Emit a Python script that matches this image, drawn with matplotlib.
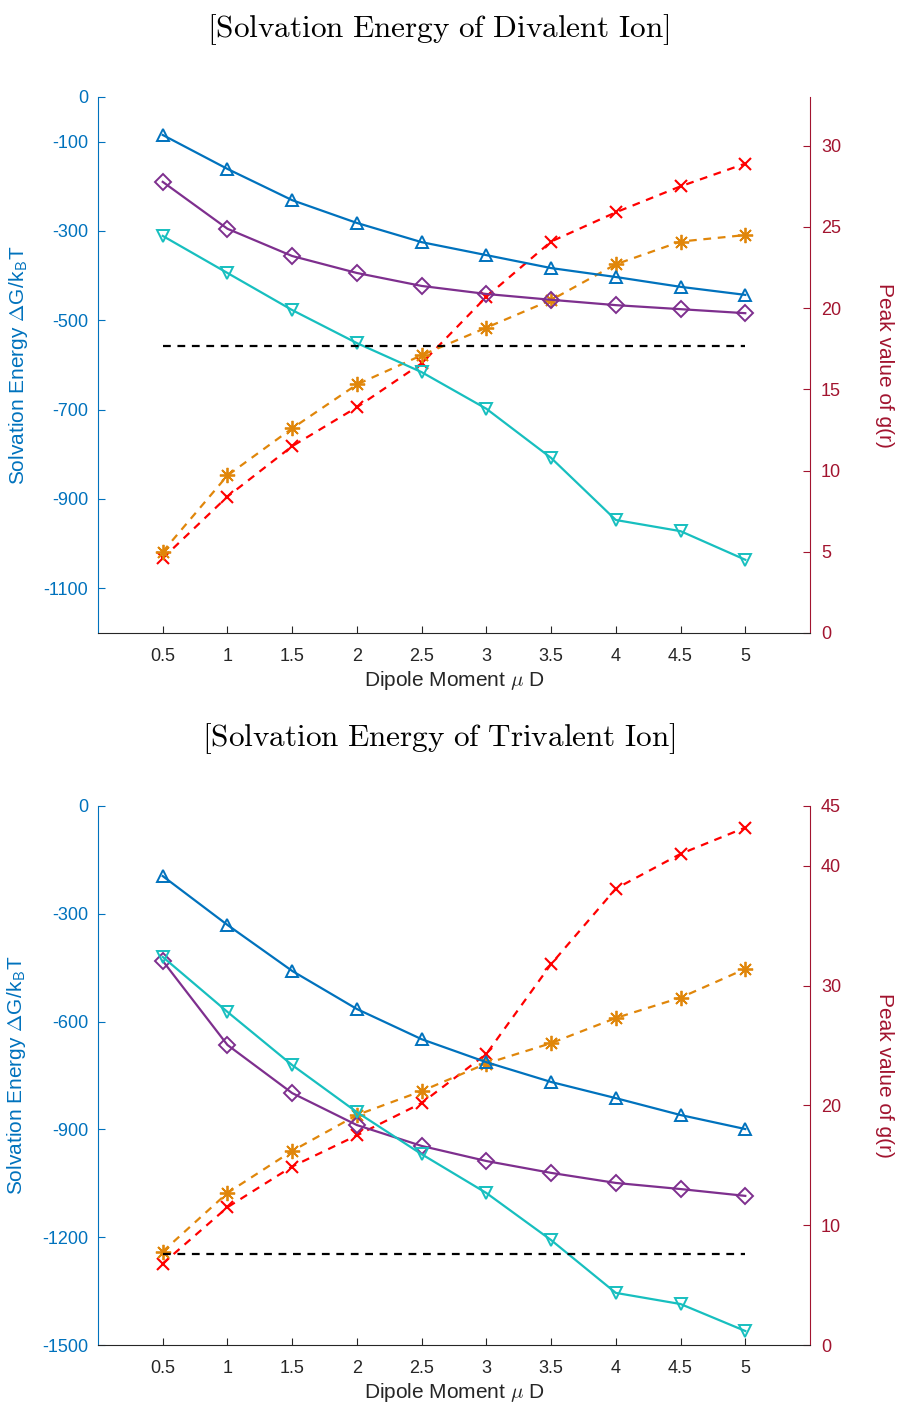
import matplotlib
matplotlib.use('Agg')
import matplotlib.pyplot as plt

plt.rcParams['font.family'] = ['Liberation Sans', 'DejaVu Sans']
plt.rcParams['mathtext.fontset'] = 'cm'
plt.rcParams['axes.unicode_minus'] = False

dipole = [0.5, 1, 1.5, 2, 2.5, 3, 3.5, 4, 4.5, 5]

# divalent ion: solvation energy (left axis) and peak of g(r) (right axis)
div_up = [-85, -161, -231, -282, -325, -354, -383, -403, -425, -443]
div_diamond = [-190, -295, -356, -394, -423, -441, -454, -466, -475, -484]
div_down = [-311, -394, -477, -551, -616, -698, -808, -947, -972, -1036]
div_ref = -557
div_peak_x = [4.6, 8.4, 11.5, 13.9, 16.6, 20.7, 24.1, 25.9, 27.5, 28.9]
div_peak_star = [5.0, 9.7, 12.6, 15.3, 17.1, 18.8, 20.5, 22.7, 24.1, 24.5]

# trivalent ion
tri_up = [-195, -331, -459, -565, -649, -713, -768, -813, -860, -899]
tri_diamond = [-431, -665, -799, -888, -946, -988, -1021, -1049, -1066, -1085]
tri_down = [-420, -573, -721, -852, -969, -1077, -1208, -1355, -1386, -1461]
tri_ref = -1247
tri_peak_x = [6.8, 11.5, 14.9, 17.5, 20.2, 24.3, 31.8, 38.1, 41.0, 43.2]
tri_peak_star = [7.8, 12.7, 16.2, 19.2, 21.2, 23.5, 25.2, 27.3, 29.0, 31.4]

xticks = [0.5, 1, 1.5, 2, 2.5, 3, 3.5, 4, 4.5, 5]
div_left_ticks = [0, -100, -300, -500, -700, -900, -1100]
div_right_ticks = [0, 5, 10, 15, 20, 25, 30]
tri_left_ticks = [0, -300, -600, -900, -1200, -1500]
tri_right_ticks = [0, 10, 20, 30, 40, 45]

BLUE = '#0072BD'
PURPLE = '#7E2F8E'
CYAN = '#17BFBF'
ORANGE = '#E0860A'
RED = '#FF0000'
DARKRED = '#A2142F'
TICK_FS = 13
LABEL_FS = 15
ASTERISK = (8, 2, 0)


def draw(fig, rect, title, up, diamond, down, ref, peak_x, peak_star,
         left_lim, left_ticks, right_lim, right_ticks):
    ax = fig.add_axes(rect)
    ax2 = ax.twinx()
    ax.set_zorder(ax2.get_zorder() + 1)
    ax.patch.set_visible(False)

    mk = dict(mfc='none', ms=9, mew=1.4, lw=1.6)
    ax.plot(dipole, up, '-^', color=BLUE, **mk)
    ax.plot(dipole, diamond, '-D', color=PURPLE, ms=8, mfc='none',
            mew=1.4, lw=1.6)
    ax.plot(dipole, down, '-v', color=CYAN, **mk)
    ax.plot([dipole[0], dipole[-1]], [ref, ref], '--', color='k', lw=1.6,
            dashes=(3.5, 3))

    ax2.plot(dipole, peak_x, '--x', color=RED, ms=9, mew=1.5, lw=1.6,
             dashes=(3.5, 3))
    ax2.plot(dipole, peak_star, '--', marker=ASTERISK, color=ORANGE, ms=11,
             mew=1.3, lw=1.6, dashes=(3.5, 3))

    ax.set_xlim(0, 5.5)
    ax.set_xticks(xticks)
    ax.set_xticklabels([f'{v:g}' for v in xticks])
    ax.set_ylim(*left_lim)
    ax.set_yticks(left_ticks)
    ax2.set_ylim(*right_lim)
    ax2.set_yticks(right_ticks)

    ax.spines['top'].set_visible(False)
    ax2.spines['top'].set_visible(False)
    ax.spines['right'].set_visible(False)
    ax2.spines['left'].set_visible(False)
    ax2.spines['bottom'].set_visible(False)
    ax.spines['left'].set_color(BLUE)
    ax2.spines['right'].set_color(DARKRED)
    ax.spines['bottom'].set_color('#262626')

    ax.tick_params(axis='y', direction='in', colors=BLUE, labelsize=TICK_FS,
                   length=5, pad=7)
    ax.tick_params(axis='x', direction='in', colors='#262626',
                   labelsize=TICK_FS, length=5, pad=11)
    ax2.tick_params(axis='y', direction='in', colors=DARKRED,
                    labelsize=TICK_FS, length=5, pad=8)

    ax.set_xlabel(r'Dipole Moment $\mu$ D', fontsize=LABEL_FS,
                  color='#262626', labelpad=3)
    ax.set_ylabel(r'Solvation Energy $\Delta$G/k$_\mathsf{B}$T',
                  fontsize=LABEL_FS, color=BLUE, labelpad=10)
    ax2.set_ylabel('Peak value of g(r)', fontsize=LABEL_FS, color=DARKRED,
                   rotation=270, labelpad=38)
    ax.set_title(title, fontsize=22.5, pad=43, x=0.478)
    return ax


fig = plt.figure(figsize=(9, 14.03), dpi=100)
H = 1403.0
draw(fig, [98 / 900, (H - 633) / H, 712 / 900, 536 / H],
     r'$\mathrm{[Solvation\ Energy\ of\ Divalent\ Ion]}$',
     div_up, div_diamond, div_down, div_ref, div_peak_x, div_peak_star,
     (-1200, 0), div_left_ticks, (0, 33), div_right_ticks)
draw(fig, [98 / 900, (H - 1345) / H, 712 / 900, 539 / H],
     r'$\mathrm{[Solvation\ Energy\ of\ Trivalent\ Ion]}$',
     tri_up, tri_diamond, tri_down, tri_ref, tri_peak_x, tri_peak_star,
     (-1500, 0), tri_left_ticks, (0, 45), tri_right_ticks)

fig.savefig('out.png', dpi=100)
